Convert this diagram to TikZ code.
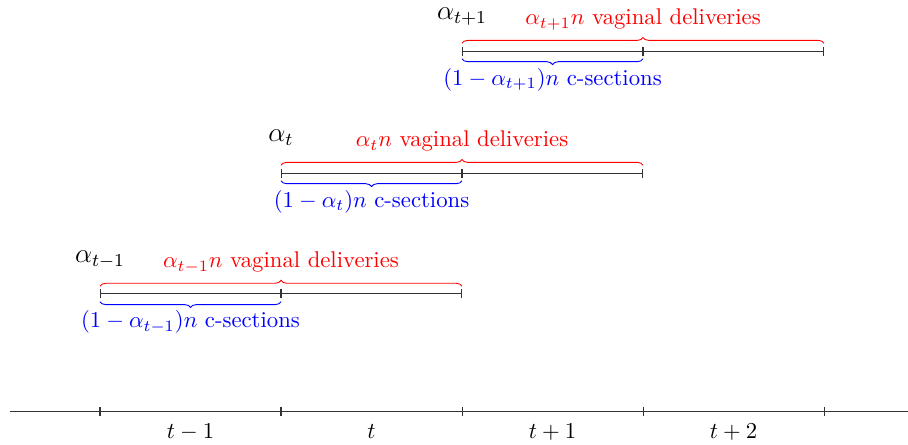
\documentclass[tikz,border=0pt]{standalone}
\usetikzlibrary{arrows.meta,decorations.pathreplacing,positioning}
\begin{document}
\begin{tikzpicture}[x=2.8cm,y=2.8cm, every node/.style={inner sep=0pt,anchor=base}, timeline/.style={black!80,line width=0.45pt}, cohortbar/.style={black!80,line width=0.45pt,{Bar[width=1.4mm]}-{Bar[width=1.4mm]}}, vagbrace/.style={red,decorate,decoration={brace,amplitude=0.9mm}}, csbrace/.style={blue,decorate,decoration={brace,mirror,amplitude=0.9mm}}, ratelabel/.style={font=\large}]
\useasboundingbox (-0.5525,-0.182) rectangle (4.464,2.276);
% time axis
\coordinate (axisL) at (-0.497,0); \coordinate (axisR) at (4.464,0);
\foreach \k in {0,...,4} \coordinate (k\k) at (\k,0);
\draw[timeline] (axisL) -- (axisR);
\foreach \k in {0,...,4} \draw[timeline] ([yshift=0.7mm]k\k) -- ([yshift=-0.7mm]k\k);
\node (tA) at (0.5,-0.149) {$t-1$};
\node (tB) at (1.5,-0.149) {$t$};
\node (tC) at (2.5,-0.149) {$t+1$};
\node (tD) at (3.5,-0.149) {$t+2$};
% cohort t-1
\coordinate (a0) at (0,0.652); \coordinate (a1) at (1,0.652); \coordinate (a2) at (2,0.652);
\draw[cohortbar] (a0) -- (a1); \draw[cohortbar] (a1) -- (a2);
\draw[vagbrace] ([yshift=1.2mm]a0) -- ([yshift=1.2mm]a2);
\draw[csbrace] ([yshift=-1.2mm]a0) -- ([yshift=-1.2mm]a1);
\node[ratelabel] (rateA) at (0,0.824) {$\alpha_{t-1}$};
\node[red] (vagA) at (1,0.796) {$\alpha_{t-1}n$ vaginal deliveries};
\node[blue] (csA) at (0.5,0.464) {$(1-\alpha_{t-1})n$ c-sections};
% cohort t
\coordinate (b0) at (1,1.320); \coordinate (b1) at (2,1.320); \coordinate (b2) at (3,1.320);
\draw[cohortbar] (b0) -- (b1); \draw[cohortbar] (b1) -- (b2);
\draw[vagbrace] ([yshift=1.2mm]b0) -- ([yshift=1.2mm]b2);
\draw[csbrace] ([yshift=-1.2mm]b0) -- ([yshift=-1.2mm]b1);
\node[ratelabel] (rateB) at (1,1.492) {$\alpha_{t}$};
\node[red] (vagB) at (2,1.464) {$\alpha_{t}n$ vaginal deliveries};
\node[blue] (csB) at (1.5,1.132) {$(1-\alpha_{t})n$ c-sections};
% cohort t+1
\coordinate (c0) at (2,1.994); \coordinate (c1) at (3,1.994); \coordinate (c2) at (4,1.994);
\draw[cohortbar] (c0) -- (c1); \draw[cohortbar] (c1) -- (c2);
\draw[vagbrace] ([yshift=1.2mm]c0) -- ([yshift=1.2mm]c2);
\draw[csbrace] ([yshift=-1.2mm]c0) -- ([yshift=-1.2mm]c1);
\node[ratelabel] (rateC) at (2,2.166) {$\alpha_{t+1}$};
\node[red] (vagC) at (3,2.138) {$\alpha_{t+1}n$ vaginal deliveries};
\node[blue] (csC) at (2.5,1.806) {$(1-\alpha_{t+1})n$ c-sections};
\end{tikzpicture}
\end{document}
